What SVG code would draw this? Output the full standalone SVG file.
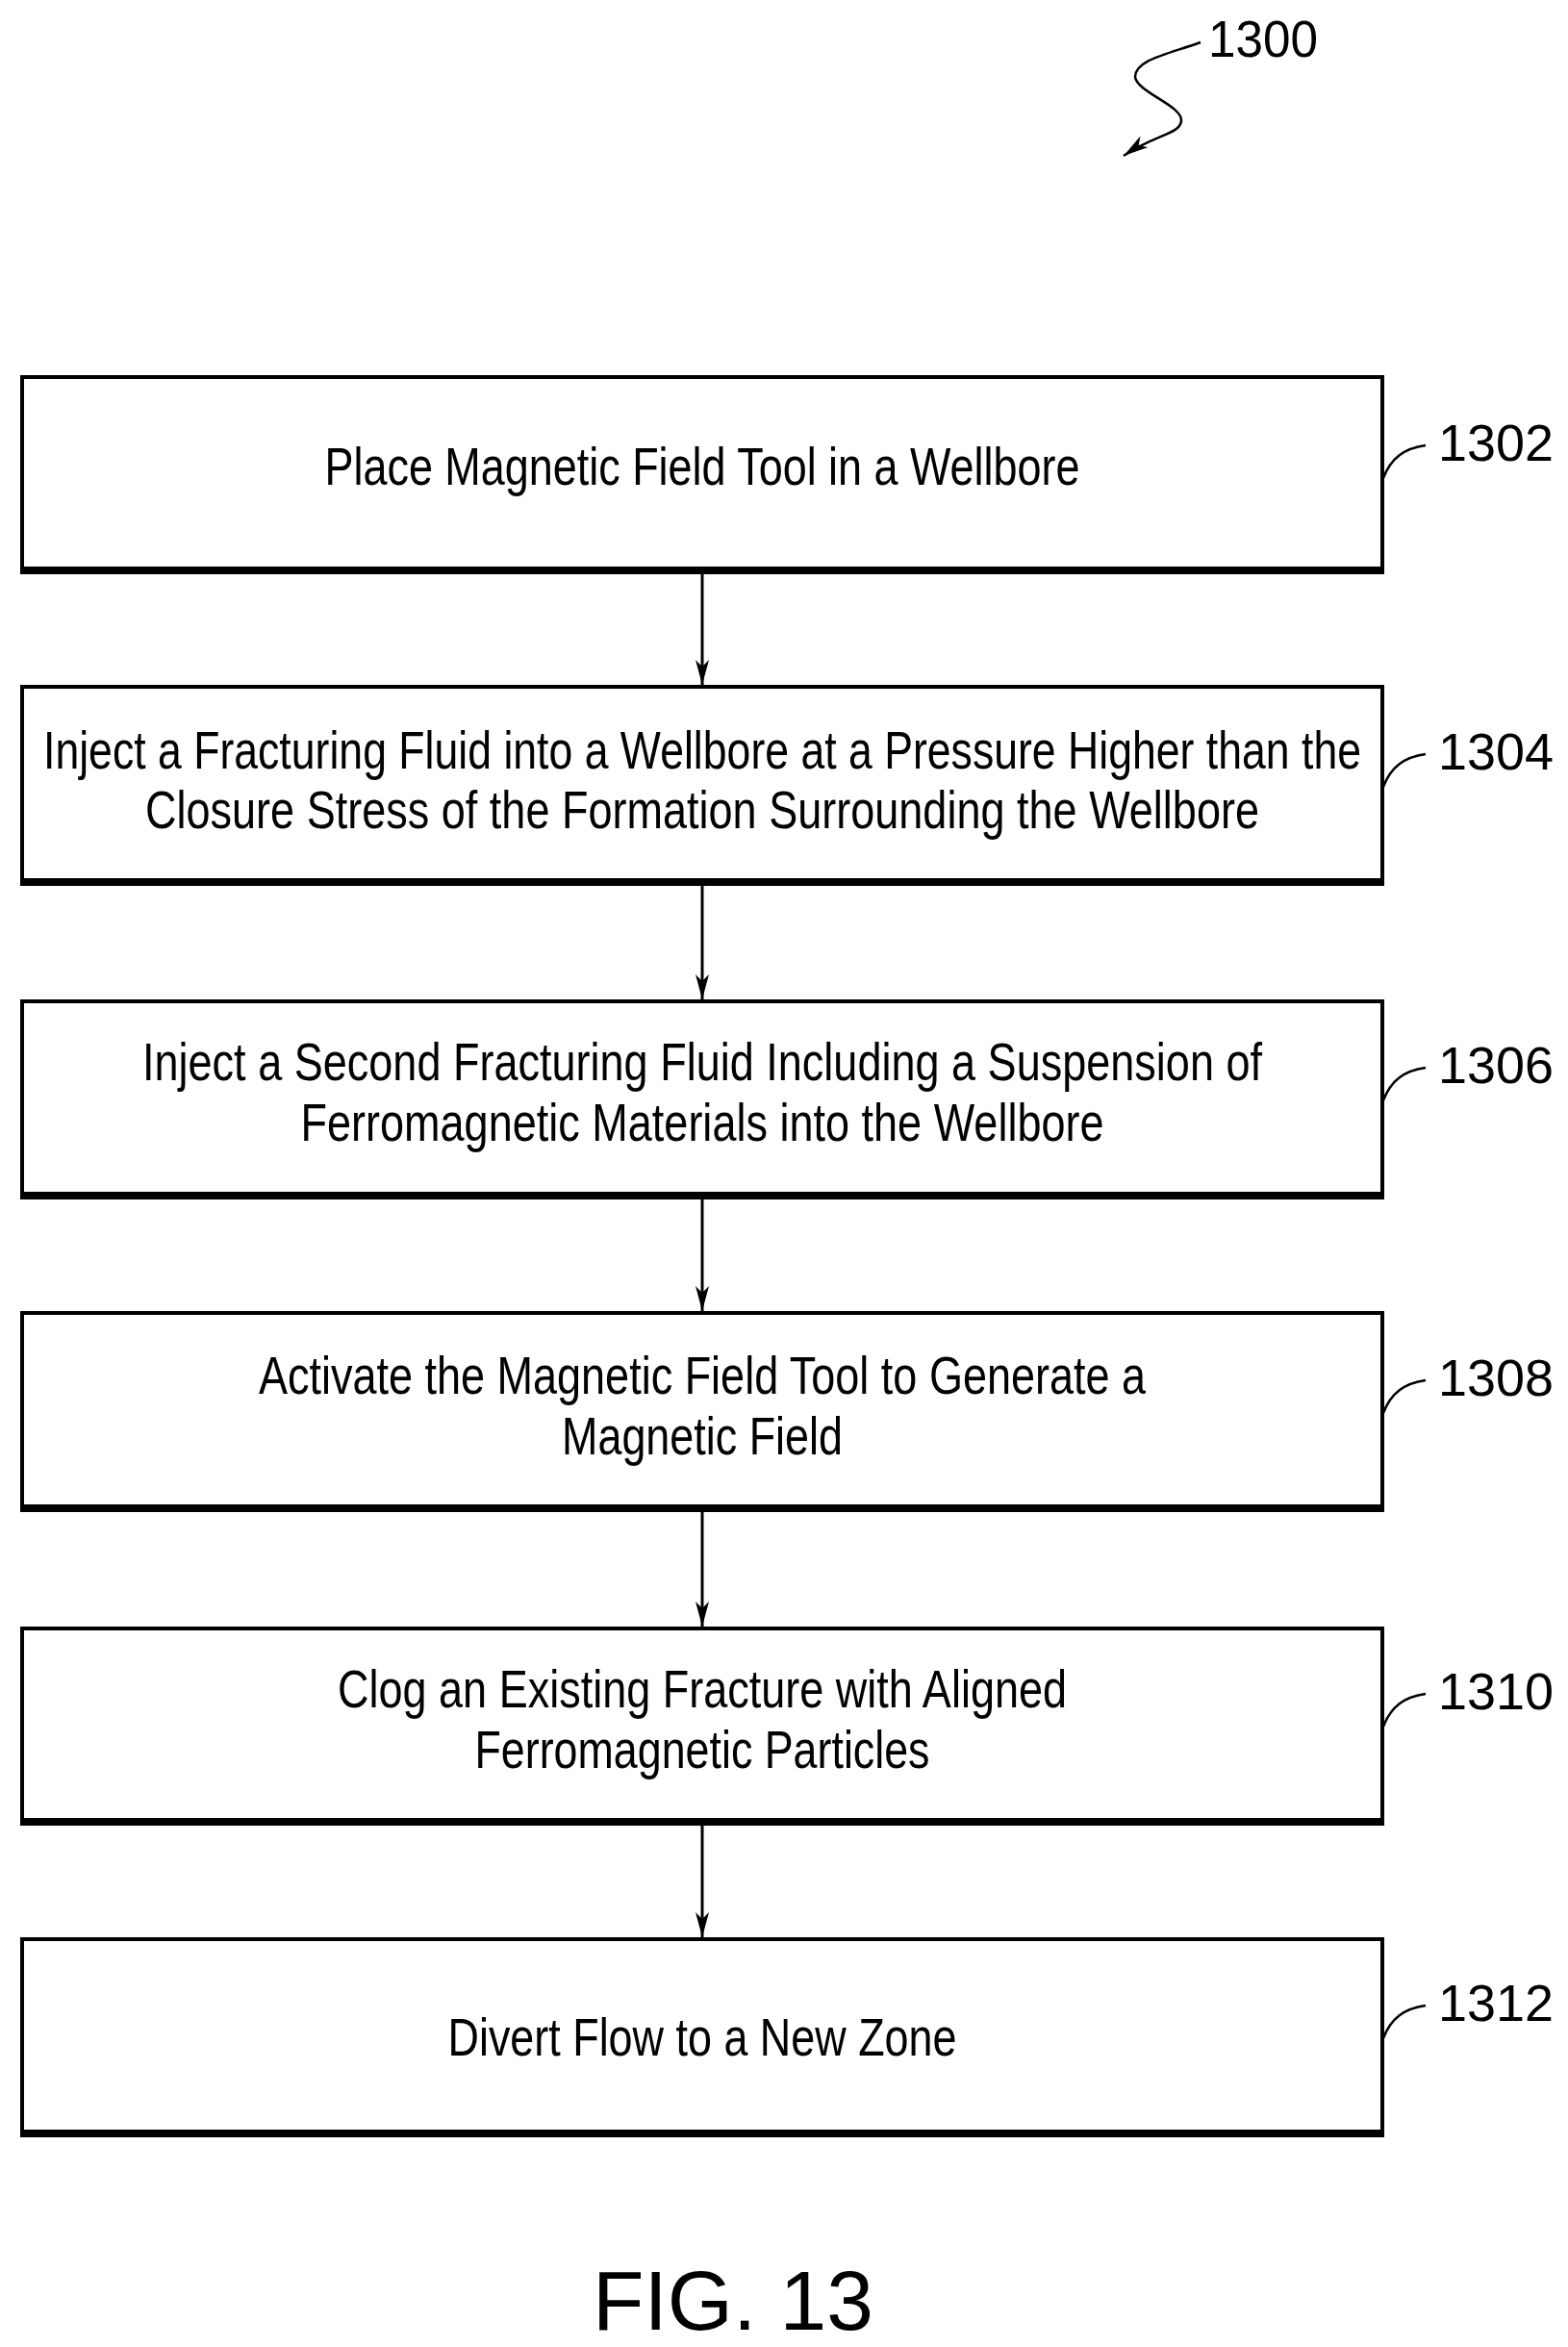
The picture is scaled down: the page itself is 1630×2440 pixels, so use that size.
<svg xmlns="http://www.w3.org/2000/svg" width="1630" height="2440" viewBox="0 0 1630 2440">
<style>
.box{fill:#fff;stroke:#000;stroke-width:4}
.bot{stroke:#000;stroke-width:8}
.t{font-family:"Liberation Sans",Arial,sans-serif;font-size:56px;fill:#000;text-anchor:middle}
.n{font-family:"Liberation Sans",Arial,sans-serif;font-size:54px;fill:#000}
.ld{fill:none;stroke:#000;stroke-width:2.5}
.c{stroke:#000;stroke-width:3;marker-end:url(#ah)}
</style>
<defs>
<marker id="ah" markerWidth="26" markerHeight="14" refX="26" refY="7" orient="auto" markerUnits="userSpaceOnUse" viewBox="0 0 26 14">
<path d="M0,0 L26,7 L0,14 L7,7 Z" fill="#000"/>
</marker>
</defs>
<rect width="1630" height="2440" fill="#fff"/>
<g id="ref1300">
<text class="n" x="1256" y="59" textLength="114" lengthAdjust="spacingAndGlyphs">1300</text>
<path class="ld" d="M1248,44 C1215,56 1180,62 1180,80 C1182,96 1230,110 1228,126 C1226,140 1200,140 1168,162" marker-end="url(#ah)"/>
</g>
<g id="n1302">
<rect class="box" x="23" y="392" width="1414" height="201"/><line class="bot" x1="21" y1="593" x2="1439" y2="593"/>
<text class="t" x="730" y="504" textLength="785" lengthAdjust="spacingAndGlyphs">Place Magnetic Field Tool in a Wellbore</text>
<path class="ld" d="M1438,497 C1446,476 1460,466 1482,463"/><text class="n" x="1495" y="479" textLength="120" lengthAdjust="spacingAndGlyphs">1302</text>
</g>
<g id="n1304">
<rect class="box" x="23" y="714" width="1414" height="203"/><line class="bot" x1="21" y1="917" x2="1439" y2="917"/>
<text class="t" x="730" y="799" textLength="1370" lengthAdjust="spacingAndGlyphs">Inject a Fracturing Fluid into a Wellbore at a Pressure Higher than the</text>
<text class="t" x="730" y="861" textLength="1158" lengthAdjust="spacingAndGlyphs">Closure Stress of the Formation Surrounding the Wellbore</text>
<path class="ld" d="M1438,818 C1446,797 1460,787 1482,784"/><text class="n" x="1495" y="800" textLength="120" lengthAdjust="spacingAndGlyphs">1304</text>
</g>
<g id="n1306">
<rect class="box" x="23" y="1041" width="1414" height="202"/><line class="bot" x1="21" y1="1243" x2="1439" y2="1243"/>
<text class="t" x="730" y="1123" textLength="1164" lengthAdjust="spacingAndGlyphs">Inject a Second Fracturing Fluid Including a Suspension of</text>
<text class="t" x="730" y="1186" textLength="835" lengthAdjust="spacingAndGlyphs">Ferromagnetic Materials into the Wellbore</text>
<path class="ld" d="M1438,1144 C1446,1123 1460,1113 1482,1110"/><text class="n" x="1495" y="1126" textLength="120" lengthAdjust="spacingAndGlyphs">1306</text>
</g>
<g id="n1308">
<rect class="box" x="23" y="1365" width="1414" height="203"/><line class="bot" x1="21" y1="1568" x2="1439" y2="1568"/>
<text class="t" x="730" y="1449" textLength="922" lengthAdjust="spacingAndGlyphs">Activate the Magnetic Field Tool to Generate a</text>
<text class="t" x="730" y="1512" textLength="292" lengthAdjust="spacingAndGlyphs">Magnetic Field</text>
<path class="ld" d="M1438,1469 C1446,1448 1460,1438 1482,1435"/><text class="n" x="1495" y="1451" textLength="120" lengthAdjust="spacingAndGlyphs">1308</text>
</g>
<g id="n1310">
<rect class="box" x="23" y="1693" width="1414" height="201"/><line class="bot" x1="21" y1="1894" x2="1439" y2="1894"/>
<text class="t" x="730" y="1775" textLength="758" lengthAdjust="spacingAndGlyphs">Clog an Existing Fracture with Aligned</text>
<text class="t" x="730" y="1838" textLength="473" lengthAdjust="spacingAndGlyphs">Ferromagnetic Particles</text>
<path class="ld" d="M1438,1795 C1446,1774 1460,1764 1482,1761"/><text class="n" x="1495" y="1777" textLength="120" lengthAdjust="spacingAndGlyphs">1310</text>
</g>
<g id="n1312">
<rect class="box" x="23" y="2016" width="1414" height="202"/><line class="bot" x1="21" y1="2218" x2="1439" y2="2218"/>
<text class="t" x="730" y="2137" textLength="529" lengthAdjust="spacingAndGlyphs">Divert Flow to a New Zone</text>
<path class="ld" d="M1438,2119 C1446,2098 1460,2088 1482,2085"/><text class="n" x="1495" y="2101" textLength="120" lengthAdjust="spacingAndGlyphs">1312</text>
</g>
<g id="connectors">
<line class="c" x1="730" y1="597" x2="730" y2="712"/>
<line class="c" x1="730" y1="921" x2="730" y2="1039"/>
<line class="c" x1="730" y1="1247" x2="730" y2="1363"/>
<line class="c" x1="730" y1="1572" x2="730" y2="1691"/>
<line class="c" x1="730" y1="1898" x2="730" y2="2014"/>
</g>
<text x="616" y="2422" font-family="Liberation Sans,Arial,sans-serif" font-size="87" textLength="292" lengthAdjust="spacingAndGlyphs">FIG. 13</text>
</svg>
